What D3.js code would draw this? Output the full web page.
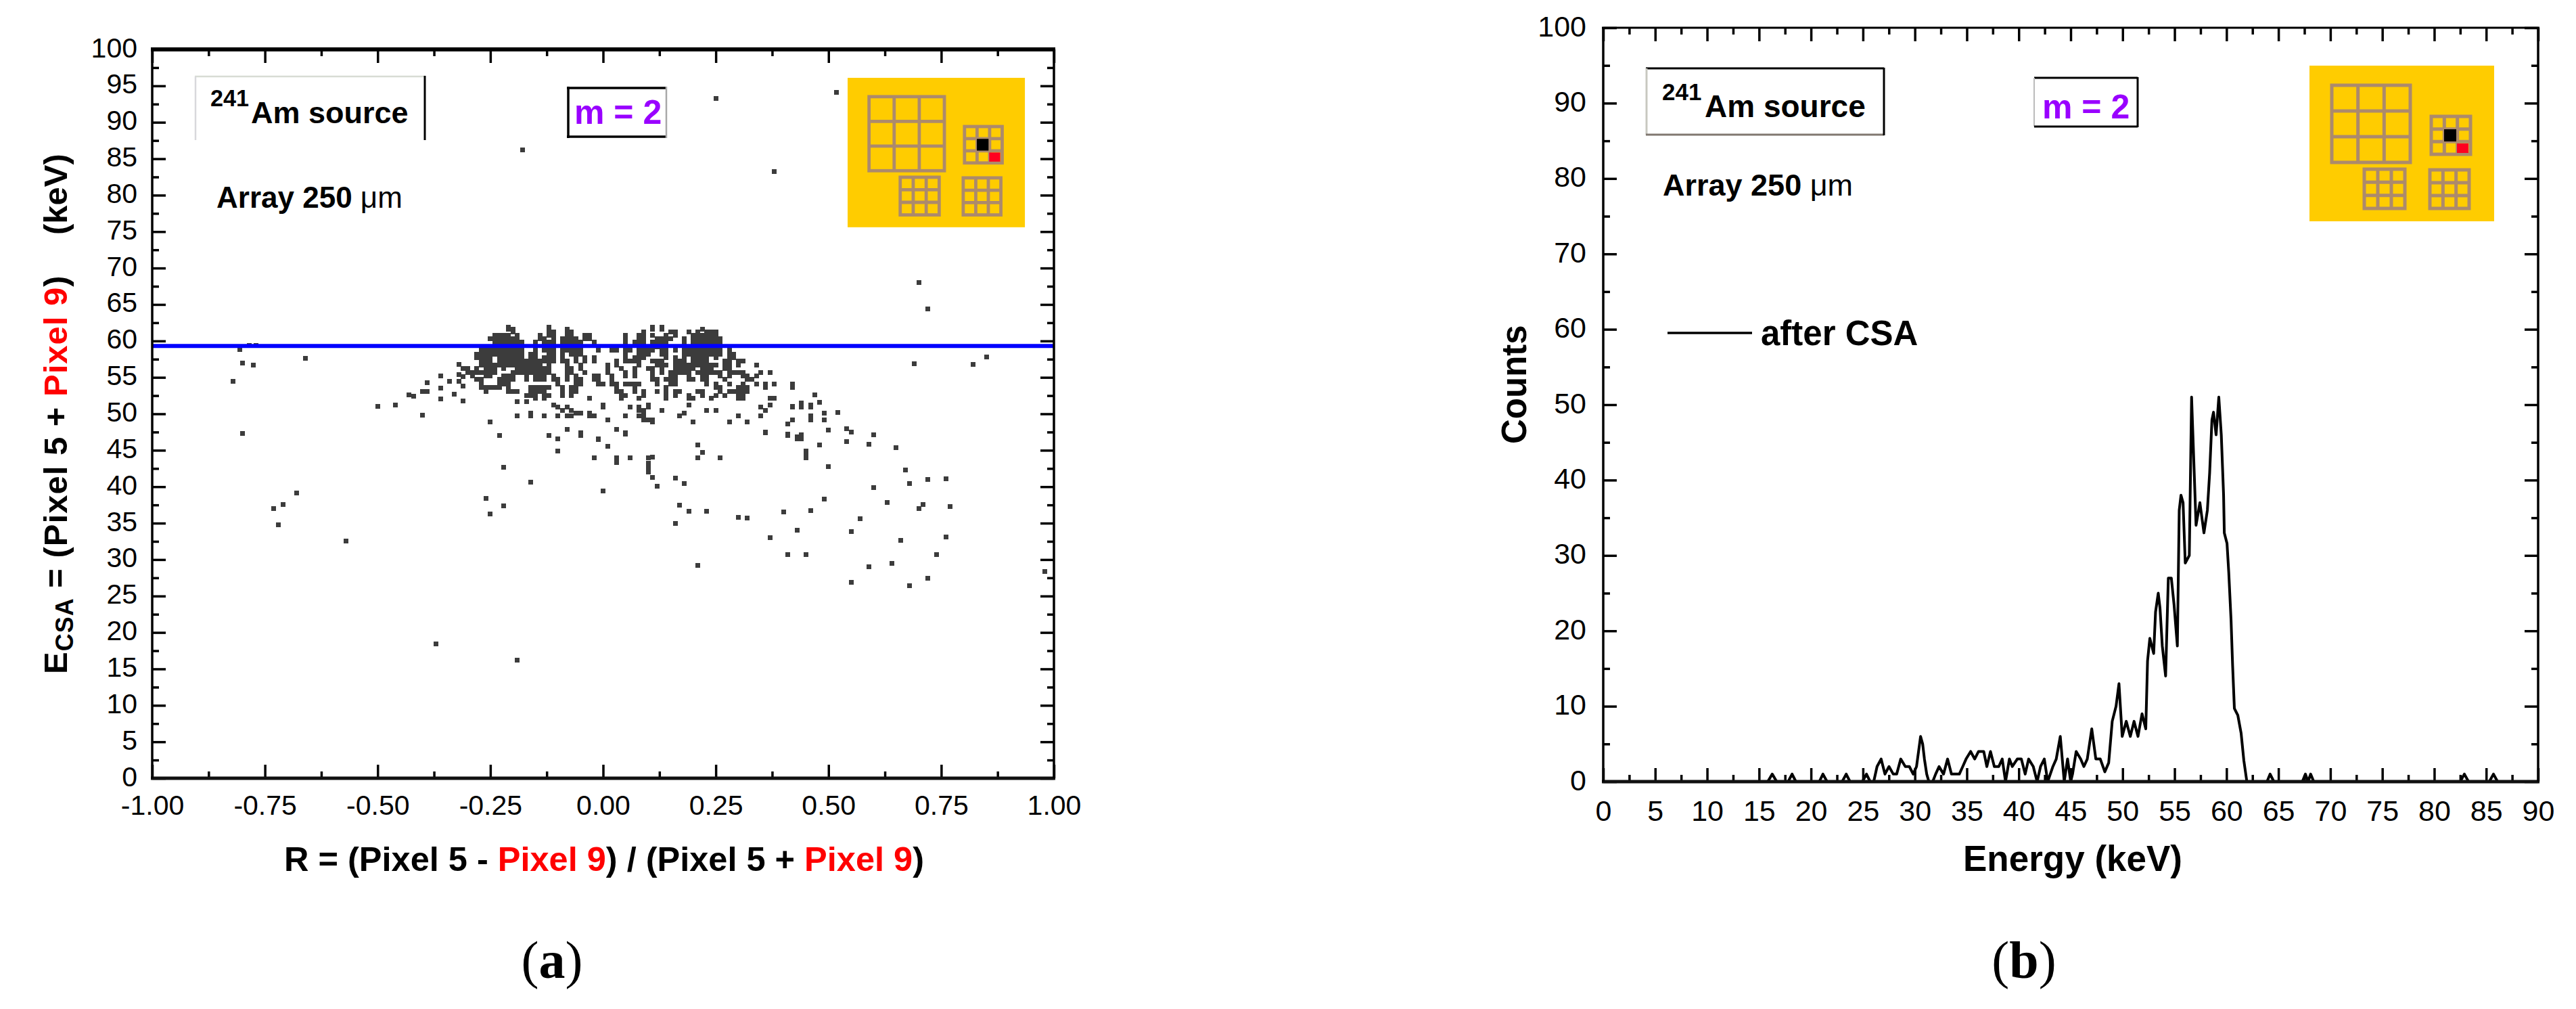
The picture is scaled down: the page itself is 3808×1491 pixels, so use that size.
<!DOCTYPE html>
<html>
<head>
<meta charset="utf-8">
<script src="https://cdnjs.cloudflare.com/ajax/libs/d3/7.8.5/d3.min.js"></script>
<style>
	html, body { margin: 0; padding: 0; background: #fff; }
	svg { display: block; }
	text { font-family: "Liberation Sans", Arial, sans-serif; fill: #000; white-space: pre; }
	.tick text { font-weight: normal; }
	.bold { font-weight: bold; }
</style>
</head>
<body>
<svg id="fig" width="3808" height="1491"></svg>
<script>
// (a) scatter: rows of the dense blob around the 59.5 keV line
var clusterE = [61.9, 61.6, 61.2, 60.8, 60.3, 59.8, 59.2, 58.7, 58.2, 57.7, 57.2, 56.7, 56.2, 55.7, 55.2, 54.7, 54.1, 53.6, 53.1, 52.5, 52.1, 51.7, 51.2, 50.9, 50.5, 50.1, 49.7, 49.2, 48.9, 48.6, 47.9, 47.4, 47.0, 46.6];
var clusterR = [
	[-.21, -.12, .11, .13],
	[-.21, -.20, -.12, -.08, .11, .13, .22],
	[-.20, -.12, -.11, -.08, -.07, .09, .15, .16, .19, .21, .23, .24, .25],
	[-.24, -.23, -.22, -.21, -.19, -.14, -.12, -.11, -.08, -.07, -.04, -.03, .05, .08, .09, .11, .14, .16, .20, .21, .22, .23, .24, .25],
	[-.25, -.24, -.23, -.22, -.21, -.20, -.19, -.14, -.13, -.11, -.09, -.08, -.07, -.06, -.04, -.03, .05, .08, .09, .12, .13, .14, .15, .18, .20, .21, .22, .23, .24, .25, .26],
	[-.24, -.23, -.22, -.21, -.20, -.19, -.18, -.15, -.13, -.12, -.11, -.09, -.08, -.07, -.06, -.05, -.02, .05, .07, .08, .09, .11, .12, .13, .14, .18, .20, .21, .22, .23, .24, .25, .26],
	[-.25, -.24, -.23, -.22, -.21, -.20, -.19, -.18, -.15, -.13, -.12, -.09, -.08, -.07, -.06, -.01, .05, .06, .08, .09, .12, .13, .14, .18, .20, .21, .22, .23, .24, .25, .26],
	[-.27, -.26, -.25, -.24, -.23, -.22, -.21, -.20, -.19, -.18, -.15, -.13, -.12, -.11, -.09, -.08, -.07, -.06, -.05, -.01, .02, .03, .05, .06, .08, .09, .10, .11, .13, .14, .16, .18, .19, .20, .21, .22, .23, .24, .25, .26, .28],
	[-.28, -.27, -.26, -.25, -.24, -.23, -.22, -.21, -.20, -.19, -.18, -.16, -.15, -.12, -.11, -.09, -.07, -.06, -.05, .05, .08, .09, .10, .13, .14, .18, .19, .20, .21, .22, .23, .24, .25, .26, .28, .29],
	[-.28, -.27, -.26, -.25, -.23, -.22, -.21, -.20, -.19, -.18, -.16, -.15, -.13, -.12, -.11, -.09, -.06, -.04, -.02, .05, .07, .08, .09, .14, .16, .18, .20, .21, .22, .23, .25, .28, .29],
	[-.27, -.26, -.25, -.23, -.22, -.21, -.20, -.19, -.18, -.17, -.16, -.15, -.14, -.13, -.12, -.11, -.09, -.08, -.06, -.04, -.02, .03, .05, .06, .07, .08, .11, .12, .13, .16, .17, .18, .20, .21, .22, .23, .27, .28, .30, .31],
	[-.27, -.26, -.25, -.24, -.23, -.22, -.21, -.20, -.19, -.18, -.17, -.16, -.15, -.14, -.12, -.08, -.05, .01, .03, .08, .12, .13, .14, .16, .17, .18, .19, .20, .21, .22, .23, .24, .25, .27, .28, .30, .34],
	[-.30, -.28, -.26, -.25, -.24, -.22, -.19, -.18, -.17, -.16, -.15, -.14, -.13, -.12, -.08, -.07, -.05, .01, .04, .07, .10, .11, .13, .16, .17, .18, .19, .20, .22, .23, .24, .27, .28],
	[-.30, -.29, -.28, -.27, -.26, -.25, -.24, -.20, -.19, -.18, -.17, -.16, -.15, -.14, -.13, -.12, -.08, -.07, -.04, .01, .05, .07, .11, .13, .15, .16, .17, .18, .19, .21, .22, .23, .24, .25, .26, .28, .29, .30, .31, .35, .37],
	[-.29, -.26, -.25, -.22, -.21, -.20, -.17, -.15, -.14, -.13, -.11, -.08, -.06, -.02, -.01, .02, .05, .07, .11, .15, .16, .19, .22, .23, .26, .28, .31, .32, .34],
	[-.28, -.27, -.23, -.22, -.21, -.20, -.17, -.15, -.14, -.13, -.11, -.10, -.08, -.06, -.05, -.02, -.01, .02, .11, .12, .14, .15, .16, .19, .20, .22, .23, .27, .32, .33],
	[-.27, -.23, -.22, -.21, -.10, -.06, -.05, -.01, .00, .02, .03, .05, .06, .07, .08, .12, .15, .16, .23, .25, .28, .31, .34, .36, .38, .42],
	[-.27, -.26, -.25, -.24, -.23, -.21, -.16, -.15, -.14, -.13, -.12, -.09, -.07, -.06, .03, .07, .14, .25, .26, .30, .31, .32, .36, .42],
	[-.26, -.21, -.20, -.19, -.16, -.15, -.14, -.13, -.09, -.07, -.06, .03, .04, .07, .09, .12, .14, .16, .17, .21, .22, .26, .28, .29, .30, .31, .32],
	[-.17, -.16, -.15, -.13, -.12, -.09, -.07, .04, .05, .09, .14, .16, .19, .22, .25, .27, .30, .31],
	[-.15, -.13, -.03, .04, .08, .14, .19, .20, .24, .30, .31, .37, .38],
	[-.19, -.17],
	[-.11, .00, .10, .19, .37],
	[-.10, -.08, .00, .06, .08, .10, .35, .42, .44, .46],
	[-.09, -.07, .08, .09, .13, .23, .25, .36],
	[-.16, -.06, -.05, -.03, .09, .18],
	[-.19, -.16, -.13, -.10, -.08, -.07, -.03, -.02, .05, .08, .09, .17, .30, .35, .46],
	[.01, .09, .10, .11, .42],
	[-.25, .11, .20, .28, .32],
	[.41],
	[-.08, .03],
	[-.05, .05, .36],
	[-.23, -.12, -.05, .41],
	[-.10, -.01, .43, .44]
];
// (a) scatter: isolated points [R, E]
var isolatedPoints = [
	[-.178, 86.2], [.25, 93.3], [.38, 83.2], [.517, 94.1], [.70, 68], [.72, 64.4],
	[-.82, 54.5], [-.80, 57], [-.805, 58.8], [-.784, 59.4], [-.77, 59.4], [-.775, 56.7], [-.80, 47.3],
	[-.66, 57.6], [-.68, 39.1], [-.71, 37.6], [-.73, 37], [-.72, 34.8], [-.57, 32.5], [-.37, 18.4], [-.19, 16.2],
	[-.32, 56.8], [-.31, 56.2], [-.32, 55.4], [-.31, 55.1], [-.32, 54.5], [-.36, 55.2], [-.34, 54.5], [-.39, 54.3],
	[-.36, 53.5], [-.31, 53.8], [-.39, 53.1], [-.40, 53.1], [-.33, 52.7], [-.43, 52.6], [-.42, 52.4], [-.31, 51.8],
	[-.36, 52], [-.46, 51.2], [-.50, 51.0], [-.40, 49.8],
	[-.05, 47], [-.01, 46.5], [.01, 45.5], [.03, 47.9], [.05, 47.2], [-.10, 44.9], [-.02, 44], [.03, 44], [.03, 43.3],
	[.06, 44], [.10, 44], [.11, 44.1], [.21, 45.7], [.22, 44.7], [.21, 44], [.26, 44], [.10, 43.2], [.10, 42.6], [.10, 42],
	[.11, 41.3], [-.22, 42.7], [.16, 41.2], [.18, 40.4], [.12, 40.1], [-.16, 40.6], [0, 39.4], [-.26, 38.4], [-.22, 37.4],
	[-.25, 36.3], [.17, 37.5], [.19, 36.6], [.23, 36.6], [.30, 35.8], [.16, 35], [.21, 29.2],
	[.85, 57.8], [.82, 56.8], [.69, 56.9], [.42, 53.8], [.47, 52.6], [.48, 51.6], [.44, 51.5], [.46, 51.2], [.42, 51],
	[.52, 50.2], [.49, 50.1], [.35, 49.7], [.42, 49.2], [.46, 49.2], [.49, 49.2], [.41, 48.6], [.50, 47.8], [.54, 48],
	[.55, 47.5], [.60, 47.1], [.36, 47.5], [.41, 47.2], [.44, 47.1], [.43, 46.8], [.54, 46.2], [.59, 45.8], [.48, 45.7],
	[.65, 45.4], [.45, 44.9], [.45, 44.4], [.45, 44], [.50, 42.8], [.67, 42.3], [.76, 41.1], [.72, 41], [.68, 40.4],
	[.60, 39.9], [.49, 38.3], [.63, 37.8], [.71, 37.6], [.70, 37], [.77, 37.3], [.46, 36.7], [.40, 36.5], [.32, 35.7],
	[.57, 35.6], [.43, 34], [.55, 33.8], [.37, 33], [.76, 33.1], [.66, 32.6], [.74, 30.7], [.41, 30.7], [.45, 30.7],
	[.64, 29.5], [.59, 29], [.72, 27.4], [.55, 26.9], [.68, 26.4], [.98, 28.4]
];
var referenceLineE = 59.3;

// (b) spectrum
var spectrumEnergy = [0, 15.84, 16.27, 16.7, 17.8, 18.18, 18.55, 20.8, 21.15, 21.55, 23.0, 23.39, 23.76, 24.95, 25.34, 25.7, 26.04, 26.36, 26.75, 27.12, 27.51, 27.92, 28.25, 28.64, 29.08, 29.47, 29.84, 30.16, 30.55, 30.75, 30.92, 31.14, 31.35, 31.72, 32.0, 32.33, 32.76, 33.15, 33.52, 34.28, 34.61, 34.93, 35.37, 35.76, 36.13, 36.63, 36.93, 37.28, 37.65, 38.08, 38.41, 38.73, 39.1, 39.38, 39.86, 40.25, 40.62, 40.95, 41.4, 41.77, 42.1, 42.46, 42.79, 43.29, 43.61, 44.0, 44.38, 44.7, 45.0, 45.18, 45.53, 45.96, 46.27, 46.6, 47.03, 47.42, 47.85, 48.29, 48.66, 49.0, 49.37, 49.65, 49.96, 50.35, 50.74, 51.1, 51.48, 51.87, 52.23, 52.4, 52.62, 52.99, 53.17, 53.43, 53.6, 53.82, 54.14, 54.4, 54.69, 54.95, 55.27, 55.45, 55.62, 55.82, 56.03, 56.42, 56.64, 57.07, 57.44, 57.83, 58.16, 58.38, 58.6, 58.75, 59.0, 59.26, 59.5, 59.72, 59.79, 60.05, 60.22, 60.44, 60.59, 60.76, 61.09, 61.41, 61.67, 61.96, 63.9, 64.2, 64.56, 67.3, 67.6, 67.85, 68.1, 68.4, 82.5, 82.9, 83.3, 85.3, 85.7, 86.1, 90];
var spectrumCounts = [0, 0, 1, 0, 0, 1, 0, 0, 1, 0, 0, 1, 0, 0, 1, 0, 0, 2, 3, 1, 2, 1, 1, 3, 2, 2, 1, 2, 6, 5, 3, 1, 0, 0, 1, 2, 1, 3, 1, 1, 2, 3, 4, 3, 4, 4, 2, 4, 2, 2, 3, 0, 3, 2, 3, 3, 1, 3, 2, 0, 2, 3, 0, 2, 3, 6, 0, 3, 0, 1, 4, 3, 2, 3, 7, 3, 3, 1.3, 2.5, 8, 10, 13, 6, 8, 6, 8, 6, 9, 7, 16, 19, 17, 22.5, 25, 23, 18, 14, 27, 27, 23.5, 18, 36, 38, 37, 29, 30, 51, 34, 37, 33, 36, 41, 48, 49, 46, 51, 46, 38, 33, 31.6, 27.7, 21.4, 15.4, 9.7, 8.8, 6.4, 2.8, 0, 0, 1, 0, 0, 1, 0, 1, 0, 0, 1, 0, 0, 1, 0, 0];

// tick values and labels
var rMajor = [-1, -.75, -.5, -.25, 0, .25, .5, .75, 1];
var rMinor = [-.875, -.625, -.375, -.125, .125, .375, .625, .875];
var eMajorA = [0, 5, 10, 15, 20, 25, 30, 35, 40, 45, 50, 55, 60, 65, 70, 75, 80, 85, 90, 95, 100];
var eMinorA = [2.5, 7.5, 12.5, 17.5, 22.5, 27.5, 32.5, 37.5, 42.5, 47.5, 52.5, 57.5, 62.5, 67.5, 72.5, 77.5, 82.5, 87.5, 92.5, 97.5];
var energyMajor = [0, 5, 10, 15, 20, 25, 30, 35, 40, 45, 50, 55, 60, 65, 70, 75, 80, 85, 90];
var energyMinor = [2.5, 7.5, 12.5, 17.5, 22.5, 27.5, 32.5, 37.5, 42.5, 47.5, 52.5, 57.5, 62.5, 67.5, 72.5, 77.5, 82.5, 87.5];
var countMajor = [0, 10, 20, 30, 40, 50, 60, 70, 80, 90, 100];
var countMinor = [5, 15, 25, 35, 45, 55, 65, 75, 85, 95];

var svg = d3.select("#fig");

var chartA = { left: 225, right: 1558, top: 73, bottom: 1150 };
var chartB = { left: 2370, right: 3752, top: 41, bottom: 1155 };

var xA = d3.scaleLinear().domain([-1, 1]).range([chartA.left, chartA.right]);
var yA = d3.scaleLinear().domain([0, 100]).range([chartA.bottom, chartA.top]);
var xB = d3.scaleLinear().domain([0, 90]).range([chartB.left, chartB.right]);
var yB = d3.scaleLinear().domain([0, 100]).range([chartB.bottom, chartB.top]);

// ticks point inward on all four sides; major ones carry the labels
function drawAxes(c, x, y, xMajor, xMinor, yMajor, yMinor, xFmt, opts) {
	var sides = [
		{ a: d3.axisBottom(x), t: "translate(0," + c.bottom + ")", maj: xMajor, min: xMinor, label: true, fmt: xFmt },
		{ a: d3.axisTop(x), t: "translate(0," + c.top + ")", maj: xMajor, min: xMinor, label: false },
		{ a: d3.axisLeft(y), t: "translate(" + c.left + ",0)", maj: yMajor, min: yMinor, label: true, fmt: d3.format("d") },
		{ a: d3.axisRight(y), t: "translate(" + c.right + ",0)", maj: yMajor, min: yMinor, label: false }
	];
	sides.forEach(function(s, i) {
		var minor = svg.append("g").attr("transform", s.t)
			.call(s.a.tickValues(s.min).tickSize(-10).tickFormat(""));
		minor.select(".domain").remove();
		minor.selectAll("line").attr("stroke", "#000").attr("stroke-width", 3.5);

		var major = svg.append("g").attr("transform", s.t)
			.call(s.a.tickValues(s.maj).tickSize(-20).tickFormat(s.label ? s.fmt : "").tickPadding(0));
		major.select(".domain").remove();
		major.selectAll("line").attr("stroke", "#000").attr("stroke-width", 3.5);
		major.selectAll("text").attr("font-size", opts.tickFont);
		if (i == 0) {
			major.selectAll("text").attr("dy", null).attr("y", opts.xLabelOffset)
				.attr("text-anchor", "middle").attr("dominant-baseline", "auto");
		}
		if (i == 2) {
			major.selectAll("text").attr("dy", null).attr("dominant-baseline", "auto")
				.attr("x", opts.yLabelX).attr("y", opts.yLabelDy).attr("text-anchor", "end");
		}
	});

	// frame, the top line is heavier on (a)
	svg.append("line").attr("x1", c.left - 2).attr("x2", c.right + 2).attr("y1", c.top).attr("y2", c.top)
		.attr("stroke", "#000").attr("stroke-width", opts.topWidth);
	svg.append("line").attr("x1", c.left - 2).attr("x2", c.right + 2).attr("y1", c.bottom).attr("y2", c.bottom)
		.attr("stroke", "#111").attr("stroke-width", opts.bottomWidth);
	svg.append("line").attr("x1", c.left).attr("x2", c.left).attr("y1", c.top).attr("y2", c.bottom)
		.attr("stroke", "#000").attr("stroke-width", 3.5);
	svg.append("line").attr("x1", c.right).attr("x2", c.right).attr("y1", c.top).attr("y2", c.bottom)
		.attr("stroke", "#000").attr("stroke-width", 3.5);
}

function sourceLabel(x241, yBase, xAm, size) {
	var t = svg.append("text").attr("class", "bold");
	t.append("tspan").attr("x", x241).attr("y", yBase - 25).attr("font-size", size * 0.76).text("241");
	t.append("tspan").attr("x", xAm).attr("y", yBase).attr("font-size", size).text("Am source");
}

function arrayLabel(x, y, size) {
	var t = svg.append("text").attr("x", x).attr("y", y).attr("font-size", size).attr("class", "bold");
	t.append("tspan").text("Array 250 ");
	t.append("tspan").attr("font-weight", "normal").text("\u03bcm");
}

function multiplicity(x, y) {
	svg.append("text").attr("x", x).attr("y", y).attr("font-size", 50).attr("class", "bold")
		.style("fill", "#9900ff").text("m = 2");
}

function edge(x1, y1, x2, y2, color, w) {
	svg.append("line").attr("x1", x1).attr("y1", y1).attr("x2", x2).attr("y2", y2)
		.attr("stroke", color).attr("stroke-width", w);
}

// pixel-array sketch, in the units of the (b) inset and scaled for (a)
function pixelInset(x0, y0, k) {
	var g = svg.append("g").attr("transform", "translate(" + x0 + "," + y0 + ") scale(" + k + ")");
	g.append("rect").attr("width", 273).attr("height", 230).attr("fill", "#ffcc00");
	var grid = function(x, y, w, h, sw) {
		var cell = g.append("g").attr("fill", "none").attr("stroke", "#ac8a6c").attr("stroke-width", sw);
		cell.append("rect").attr("x", x).attr("y", y).attr("width", w).attr("height", h);
		[1, 2].forEach(function(i) {
			cell.append("line").attr("x1", x + w * i / 3).attr("x2", x + w * i / 3).attr("y1", y).attr("y2", y + h);
			cell.append("line").attr("y1", y + h * i / 3).attr("y2", y + h * i / 3).attr("x1", x).attr("x2", x + w);
		});
	};
	grid(33, 29, 116, 114, 5);
	grid(180, 75, 58, 56, 5);
	grid(81, 153, 60, 58, 5);
	grid(178, 154, 58, 57, 5);
	g.append("rect").attr("x", 199).attr("y", 94).attr("width", 18).attr("height", 18).attr("fill", "#000");
	g.append("rect").attr("x", 218).attr("y", 115).attr("width", 17).attr("height", 14).attr("fill", "#ff0020");
}

// ---------- (a) ----------
var dots = [];
clusterE.forEach(function(e, i) {
	clusterR[i].forEach(function(r) {
		dots.push([r, e]);
	});
});
dots = dots.concat(isolatedPoints);

svg.append("g").selectAll("rect")
	.data(dots)
	.enter()
	.append("rect")
	.attr("x", function(d) { return xA(d[0]) - 3.5; })
	.attr("y", function(d) { return yA(d[1]) - 3.5; })
	.attr("width", 7)
	.attr("height", 7)
	.attr("fill", "#3c3c3c")
	.attr("shape-rendering", "crispEdges");

svg.append("line")
	.attr("x1", chartA.left).attr("x2", chartA.right)
	.attr("y1", yA(referenceLineE)).attr("y2", yA(referenceLineE))
	.attr("stroke", "#0000ff").attr("stroke-width", 6);

drawAxes(chartA, xA, yA, rMajor, rMinor, eMajorA, eMinorA, function(d) { return d.toFixed(2); },
	{ tickFont: 41, xLabelOffset: 54, yLabelX: -22, yLabelDy: 11, topWidth: 6, bottomWidth: 5 });

var xTitleA = svg.append("text").attr("x", 420).attr("y", 1287).attr("font-size", 50.5).attr("class", "bold");
xTitleA.append("tspan").text("R = (Pixel 5 - ");
xTitleA.append("tspan").style("fill", "#ff0000").text("Pixel 9");
xTitleA.append("tspan").text(") / (Pixel 5 + ");
xTitleA.append("tspan").style("fill", "#ff0000").text("Pixel 9");
xTitleA.append("tspan").text(")");

var yTitleA = svg.append("text").attr("transform", "translate(99,996) rotate(-90)").attr("font-size", 49)
	.attr("class", "bold").attr("letter-spacing", 1);
yTitleA.append("tspan").text("E");
yTitleA.append("tspan").attr("font-size", 36).attr("dy", 9).text("CSA");
yTitleA.append("tspan").attr("dy", -9).text(" = (Pixel 5 + ");
yTitleA.append("tspan").style("fill", "#ff0000").text("Pixel 9");
yTitleA.append("tspan").text(")");
svg.append("text").attr("transform", "translate(99,347) rotate(-90)").attr("font-size", 49).attr("class", "bold").text("(keV)");

sourceLabel(311, 182, 371, 45);
arrayLabel(320, 307, 44);
edge(288, 113, 628, 113, "#d8dcd4", 2.5);
edge(289, 113, 289, 207, "#d8d8dc", 2.5);
edge(628, 112, 628, 207, "#000", 3);
edge(838, 130, 985, 130, "#000", 3.5);
edge(840, 128, 840, 204, "#000", 3.5);
edge(838, 202, 985, 202, "#000", 3.5);
edge(985, 128, 985, 204, "#a8a8a8", 2.5);
multiplicity(849, 183);
pixelInset(1253, 115, 0.96);

// ---------- (b) ----------
var spectrumLine = d3.line()
	.x(function(d) { return xB(d); })
	.y(function(d, i) { return yB(spectrumCounts[i]); });

svg.append("path")
	.attr("d", spectrumLine(spectrumEnergy))
	.attr("fill", "none")
	.attr("stroke", "#000")
	.attr("stroke-width", 4)
	.attr("stroke-linejoin", "round");

drawAxes(chartB, xB, yB, energyMajor, energyMinor, countMajor, countMinor, d3.format("d"),
	{ tickFont: 43, xLabelOffset: 58, yLabelX: -25, yLabelDy: 12, topWidth: 3, bottomWidth: 5 });

svg.append("text").attr("x", 2902).attr("y", 1287).attr("font-size", 53).attr("class", "bold").text("Energy (keV)");
svg.append("text").attr("transform", "translate(2256,656) rotate(-90)").attr("font-size", 51).attr("class", "bold").text("Counts");

sourceLabel(2457, 173, 2520, 46);
arrayLabel(2458, 289, 45);
edge(2433, 101, 2785, 101, "#000", 3);
edge(2434, 101, 2434, 199, "#c8c8c0", 3);
edge(2433, 199, 2785, 199, "#807870", 3);
edge(2785, 100, 2785, 200, "#000", 3);
edge(3007, 115, 3160, 115, "#000", 3);
edge(3007, 115, 3007, 187, "#bbb", 2);
edge(3007, 187, 3160, 187, "#000", 3);
edge(3160, 114, 3160, 188, "#000", 3);
multiplicity(3019, 175);
edge(2465, 492, 2590, 492, "#000", 3.5);
svg.append("text").attr("x", 2603).attr("y", 510).attr("font-size", 51).attr("class", "bold").text("after CSA");
pixelInset(3414, 97, 1);

// panel letters
[[816, "a"], [2992, "b"]].forEach(function(p) {
	var t = svg.append("text").attr("x", p[0]).attr("y", 1445).attr("text-anchor", "middle")
		.attr("font-size", 78).style("font-family", "'Liberation Serif', serif");
	t.append("tspan").text("(");
	t.append("tspan").attr("font-weight", "bold").text(p[1]);
	t.append("tspan").text(")");
});
</script>
</body>
</html>
